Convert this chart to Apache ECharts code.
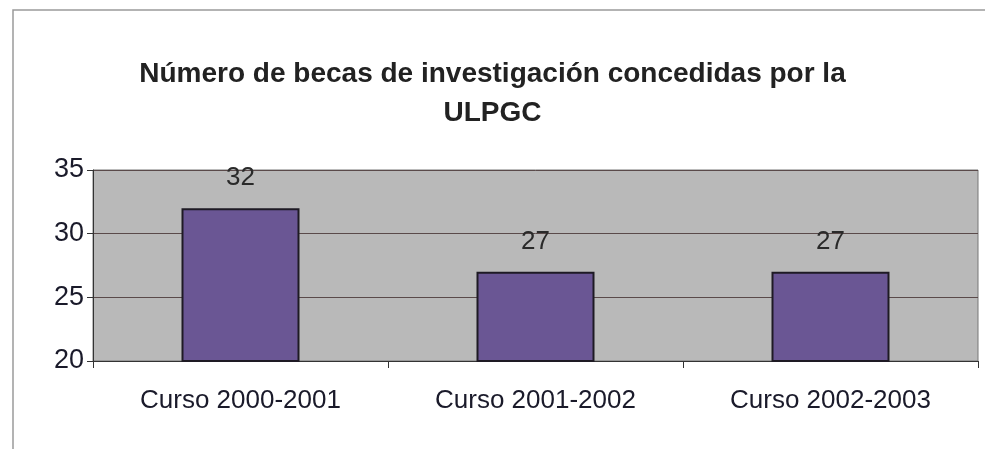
<!DOCTYPE html>
<html lang="es">
<head>
    <meta charset="UTF-8">
    <title>Becas ULPGC</title>
    <script type="text/javascript" src="https://cdn.jsdelivr.net/npm/echarts@6/dist/echarts.min.js"></script>
    <style>
        body { margin: 0; background: #fff; }
    </style>
</head>
<body>
    <div id="main" style="width: 985px; height: 449px"></div>
    <script type="text/javascript">
        var cursos = ['Curso 2000-2001', 'Curso 2001-2002', 'Curso 2002-2003'];
        var becas = [32, 27, 27];
        var yTicks = { min: 20, max: 35, interval: 5 };

        var myChart = echarts.init(document.getElementById('main'));

        myChart.setOption({
            backgroundColor: '#fff',
            textStyle: { fontFamily: 'Liberation Sans, Arial, sans-serif' },
            title: {
                text: 'Número de becas de investigación concedidas por la\nULPGC',
                left: 'center',
                top: 50,
                textStyle: {
                    fontSize: 28,
                    fontWeight: 'bold',
                    color: '#222',
                    lineHeight: 39
                }
            },
            graphic: [{
                type: 'polyline',
                shape: { points: [[13, 449], [13, 10], [985, 10]] },
                style: { stroke: '#9a9a9a', lineWidth: 1.5, fill: null }
            }],
            grid: {
                left: 93,
                right: 7,
                top: 170,
                bottom: 88,
                show: true,
                backgroundColor: '#b9b9b9',
                borderColor: '#777',
                borderWidth: 1
            },
            xAxis: {
                type: 'category',
                data: cursos,
                axisLine: { lineStyle: { color: '#333', width: 1 } },
                axisTick: { show: true, length: 7, lineStyle: { color: '#333' } },
                axisLabel: { fontSize: 26, color: '#1a1a2a', margin: 27 }
            },
            yAxis: {
                type: 'value',
                min: yTicks.min,
                max: yTicks.max,
                interval: yTicks.interval,
                axisLine: { show: true, lineStyle: { color: '#333' } },
                axisTick: { show: true, length: 6, lineStyle: { color: '#333' } },
                axisLabel: { fontSize: 27, color: '#1a1a2a', margin: 9 },
                splitLine: { lineStyle: { color: '#5a4a4a', width: 1 } }
            },
            series: [{
                type: 'bar',
                data: becas,
                barWidth: '40%',
                itemStyle: {
                    color: '#6a5694',
                    borderColor: '#1e1a24',
                    borderWidth: 2
                },
                label: {
                    show: true,
                    position: 'top',
                    distance: 17,
                    fontSize: 26,
                    color: '#2a2a2a'
                }
            }]
        });
    </script>
</body>
</html>
